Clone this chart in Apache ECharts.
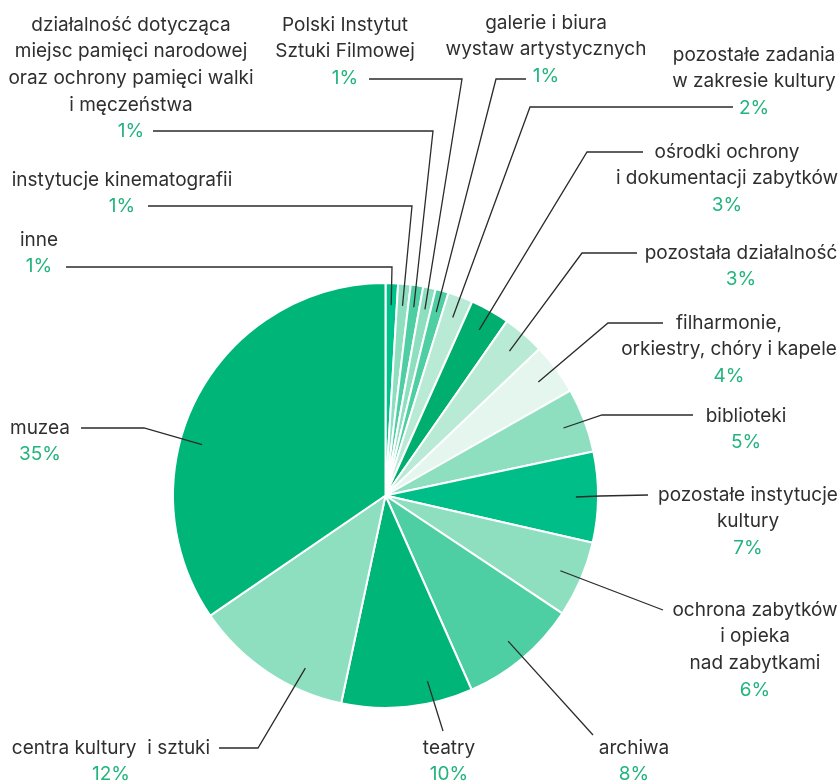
<!DOCTYPE html>
<html>
<head>
<meta charset="utf-8">
<script src="https://cdn.jsdelivr.net/npm/echarts@6/dist/echarts.min.js"></script>
<style>
  html, body { margin: 0; padding: 0; background: #fff; }
  #chart { width: 840px; height: 784px; }
</style>
</head>
<body>
<div id="chart"></div>
<script>
// kategorie (kolejność zgodnie z ruchem wskazówek zegara od góry)
const categories = [
  'inne',
  'instytucje kinematografii',
  'działalność dotycząca\nmiejsc pamięci narodowej\noraz ochrony pamięci walki\ni męczeństwa',
  'Polski Instytut\nSztuki Filmowej',
  'galerie i biura\nwystaw artystycznych',
  'pozostałe zadania\nw zakresie kultury',
  'ośrodki ochrony\ni dokumentacji zabytków',
  'pozostała działalność',
  'filharmonie,\norkiestry, chóry i kapele',
  'biblioteki',
  'pozostałe instytucje\nkultury',
  'ochrona zabytków\ni opieka\nnad zabytkami',
  'archiwa',
  'teatry',
  'centra kultury  i sztuki',
  'muzea'
]
// udział
const shares = [0.95, 0.95, 0.95, 0.95, 1.0, 1.9, 3.0, 3.2, 3.9, 4.9, 6.9, 5.8, 9.0, 10.0, 12.1, 34.6]
// opisy procentowe
const percentLabels = ['1%', '1%', '1%', '1%', '1%', '2%', '3%', '3%', '4%', '5%', '7%', '6%', '8%', '10%', '12%', '35%']
const sliceColors = [
  '#00c38b', '#8ddfc0', '#4ecfa3', '#8ddfc0', '#4ecfa3', '#b9ead6', '#00ae70', '#b9ead6',
  '#e4f6ee', '#8ddfc0', '#00be87', '#8ddfc0', '#4ecfa3', '#00b578', '#8ddfc0', '#00b578'
]

// pozycje opisów: [środek x, y pierwszej linii, załamanie linii, koniec linii, przesunięcie kąta]
const labelSpots = [
  [39, 240, [392, 267], [66, 267], 0],
  [122, 180, [412, 206], [148, 206], 0],
  [131, 25, [433, 131], [153, 131], 0],
  [345, 25, [462, 79], [369, 79], 0],
  [546, 23, [496, 79], [526, 79], 0],
  [754, 55, [530, 107], [733, 107], 0],
  [727, 152, [587, 152], [643, 152], 0],
  [741, 253, [582, 253], [637, 253], 0],
  [729, 323, [608, 323], [663, 323], 0],
  [746, 416, [602, 415], [693, 415], 0],
  [748, 495, [600, 496], [648, 495], 0],
  [755, 610, [663, 610], [663, 610], 0],
  [634, 748, [593, 735], [593, 735], 0],
  [449, 748, [443, 731], [443, 731], -6.8],
  [111, 748, [258, 748], [219, 748], -8.9],
  [40, 428, [144, 428], [81, 428], -12.3]
]

const center = [385.5, 495.5]
const radius = 212.5
const lineH = 26.6
const font = 'Inter'

const total = shares.reduce((a, b) => a + b, 0)
let acc = 0
const midAngles = shares.map(v => {
  const m = (acc + v / 2) / total * 360
  acc += v
  return m
})

const pieData = categories.map((name, i) => ({
  name: name,
  value: shares[i],
  itemStyle: { color: sliceColors[i] }
}))

const myChart = echarts.init(document.getElementById('chart'))
myChart.setOption({
  animation: false,
  textStyle: { fontFamily: font },
  series: [
    {
      // wycinki
      type: 'pie',
      z: 2,
      center: center,
      radius: radius,
      startAngle: 90,
      clockwise: true,
      silent: true,
      itemStyle: { borderColor: '#fff', borderWidth: 2 },
      label: { show: false },
      labelLine: { show: false },
      data: pieData
    },
    {
      // opisy i linie nad wycinkami
      type: 'pie',
      z: 5,
      center: center,
      radius: radius,
      startAngle: 90,
      clockwise: true,
      silent: true,
      avoidLabelOverlap: false,
      itemStyle: { color: 'rgba(0,0,0,0)', borderWidth: 0 },
      data: categories.map((name, i) => ({ name: name, value: shares[i] })),
      label: {
        show: true,
        position: 'outer',
        formatter: function (p) {
          const lines = categories[p.dataIndex].split('\n')
          return lines.map(l => '{n|' + l + '}').join('\n') + '\n{p|' + percentLabels[p.dataIndex] + '}'
        },
        rich: {
          n: { color: '#2f2f2f', fontSize: 19, lineHeight: lineH, fontFamily: font },
          p: { color: '#22b47e', fontSize: 19, lineHeight: lineH, fontFamily: font }
        }
      },
      labelLine: {
        show: true,
        length: 10,
        length2: 10,
        lineStyle: { color: '#2b2b2b', width: 1.3 }
      },
      labelLayout: function (params) {
        const i = params.dataIndex
        const s = labelSpots[i]
        const a = (midAngles[i] + s[4]) * Math.PI / 180
        const r = (radius - 1) * 0.9
        const anchor = [center[0] + r * Math.sin(a), center[1] - r * Math.cos(a)]
        return {
          x: s[0],
          y: s[1] - lineH / 2,
          align: 'center',
          verticalAlign: 'top',
          labelLinePoints: [anchor, s[2], s[3]]
        }
      }
    }
  ]
})
</script>
</body>
</html>
